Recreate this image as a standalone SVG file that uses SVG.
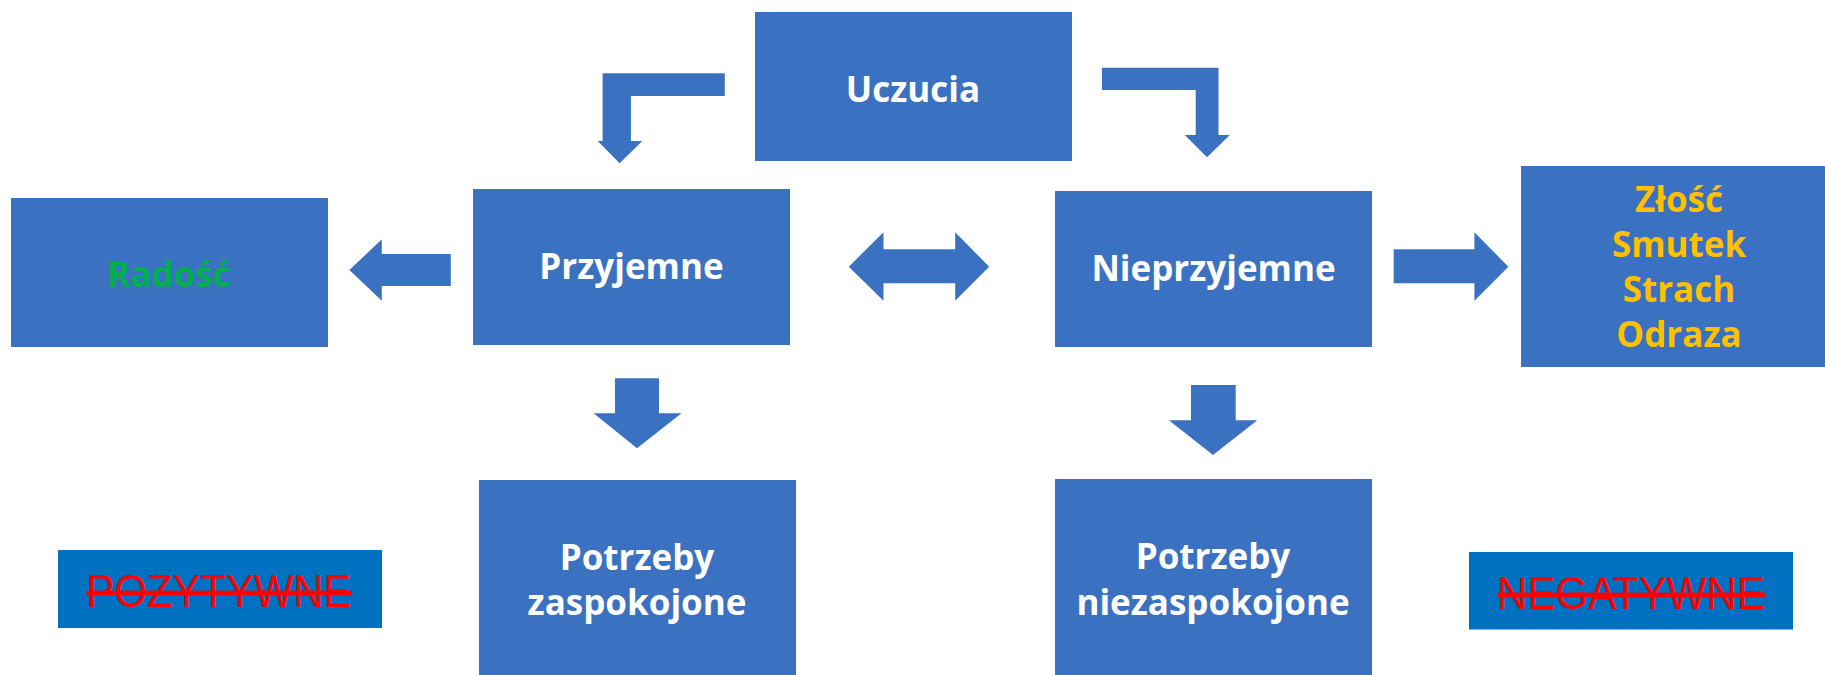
<svg xmlns="http://www.w3.org/2000/svg" width="1825" height="675" viewBox="0 0 1825 675">
<style>
.box{fill:#3B71C1}
.lbl{fill:#0070C0}
.arr{fill:#3B71C1}
.t{font-family:"Open Sans","Noto Sans","Liberation Sans",sans-serif;font-weight:700;font-size:35px;text-anchor:middle}
.w{fill:#FFFFFF}
.g{fill:#00B050}
.y{fill:#FFC000}
.s{font-family:"Liberation Sans",Arial,sans-serif;font-size:47px;fill:#FF0000;text-anchor:middle;text-decoration:line-through}
</style>
<rect width="1825" height="675" fill="#FFFFFF"/>
<g id="connectors">
<polygon class="arr" points="724.8,73.3 602.6,73.3 602.6,141 597.7,141 619.6,163.3 642.3,141 630.9,141 630.9,96 724.8,96"/>
<polygon class="arr" points="1101.9,67.7 1218.5,67.7 1218.5,135 1229.8,135 1207,157.3 1184.8,135 1195.7,135 1195.7,90 1101.9,90"/>
<polygon class="arr" points="450.8,254 381.8,254 381.8,239.3 349.4,270 381.8,300.7 381.8,286 450.8,286"/>
<polygon class="arr" points="848.8,266.7 883.5,232.3 883.5,249.3 955.2,249.3 955.2,232.3 989.2,266.7 955.2,300.7 955.2,283.3 883.5,283.3 883.5,300.7"/>
<polygon class="arr" points="1393.7,249.3 1474.4,249.3 1474.4,232.3 1508.4,266.7 1474.4,300.7 1474.4,283.3 1393.7,283.3"/>
<polygon class="arr" points="615,378.3 659,378.3 659,413.3 681.5,413.3 637,448.3 593.6,413.3 615,413.3"/>
<polygon class="arr" points="1191,385 1235.7,385 1235.7,420.3 1257.3,420.3 1213,455 1168.9,420.3 1191,420.3"/>
</g>
<g id="uczucia">
<rect class="box" x="755" y="12" width="317" height="149"/>
<text class="t w" x="913" y="101.5">Uczucia</text>
</g>
<g id="radosc">
<rect class="box" x="11" y="198" width="317" height="149"/>
<text class="t g" x="169" y="287.3">Radość</text>
</g>
<g id="przyjemne">
<rect class="box" x="473" y="189" width="317" height="156"/>
<text class="t w" x="631.5" y="279.3">Przyjemne</text>
</g>
<g id="nieprzyjemne">
<rect class="box" x="1055" y="191" width="317" height="156"/>
<text class="t w" x="1213.5" y="281">Nieprzyjemne</text>
</g>
<g id="emocje">
<rect class="box" x="1521" y="166" width="316" height="201"/>
<text class="t y" x="1679" y="211.7">Złość</text>
<text class="t y" x="1679" y="256.7">Smutek</text>
<text class="t y" x="1679" y="301.7">Strach</text>
<text class="t y" x="1679" y="346.5">Odraza</text>
</g>
<g id="zaspokojone">
<rect class="box" x="479" y="480" width="317" height="196"/>
<text class="t w" x="637" y="570">Potrzeby</text>
<text class="t w" x="637" y="615">zaspokojone</text>
</g>
<g id="niezaspokojone">
<rect class="box" x="1055" y="479" width="317" height="197"/>
<text class="t w" x="1213" y="569.3">Potrzeby</text>
<text class="t w" x="1213" y="615">niezaspokojone</text>
</g>
<g id="pozytywne">
<rect class="lbl" x="58" y="550" width="324" height="78"/>
<text class="s" x="219" y="607.3" textLength="265" lengthAdjust="spacingAndGlyphs">POZYTYWNE</text>
</g>
<g id="negatywne">
<rect class="lbl" x="1469" y="552" width="324" height="77.5"/>
<text class="s" x="1631" y="609.3" textLength="268" lengthAdjust="spacingAndGlyphs">NEGATYWNE</text>
</g>
</svg>
